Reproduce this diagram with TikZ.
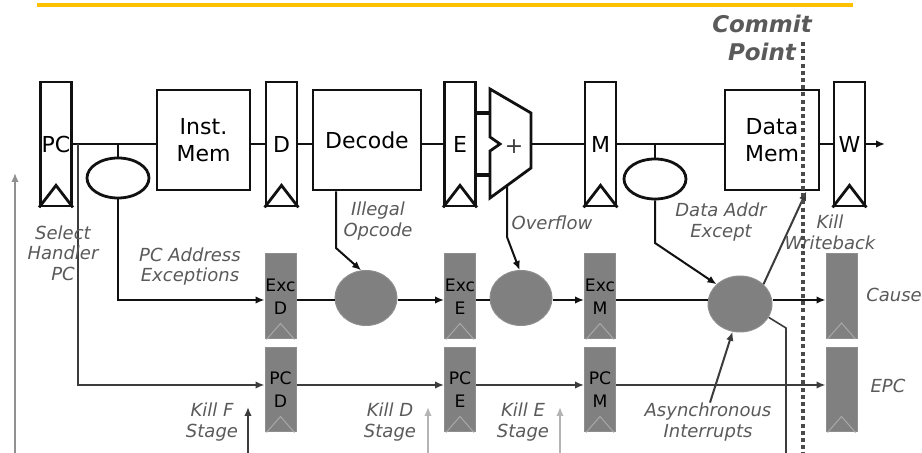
\documentclass[tikz,border=0pt]{standalone}
\usepackage{fontspec}
\setmainfont{DejaVu Sans}
\usepackage{tikz}
\usetikzlibrary{arrows.meta,positioning,shapes,calc}
\definecolor{ink}{HTML}{111111}
\definecolor{notegray}{HTML}{5A5A5A}
\definecolor{regfill}{HTML}{808080}
\definecolor{regedge}{HTML}{8E8E8E}
\definecolor{clockfaint}{HTML}{A8A8A8}
\definecolor{killgray}{HTML}{B4B4B4}
\definecolor{pcwire}{HTML}{3C3C3C}
\definecolor{dotgray}{HTML}{4A4A4A}
\definecolor{slidegold}{HTML}{FFC000}
\tikzset{
  pipereg/.style={
    draw=ink, line width=1.4pt, minimum width=15.5pt, minimum height=62pt,
    inner sep=0pt, font=\fontsize{11}{13}\selectfont
  },
  logicbox/.style={
    draw=ink, line width=1.4pt, minimum height=50pt, inner sep=0pt,
    align=center, font=\fontsize{11}{13.5}\selectfont
  },
  excreg/.style={
    draw=regedge, fill=regfill, line width=0.5pt, minimum width=15.5pt,
    inner sep=0pt, align=center, font=\fontsize{8.6}{11.5}\selectfont
  },
  excbubble/.style={
    ellipse, draw=regedge, fill=regfill, line width=0.5pt,
    minimum width=31pt, minimum height=27.5pt, inner sep=0pt
  },
  checkoval/.style={
    ellipse, draw=ink, line width=1.4pt, minimum width=31pt,
    minimum height=20pt, inner sep=0pt
  },
  sidenote/.style={
    text=notegray, align=center, inner sep=0pt,
    font=\itshape\fontsize{9}{10.3}\selectfont
  },
  commitnote/.style={
    text=notegray, align=center, inner sep=0pt,
    font=\bfseries\itshape\fontsize{11.5}{14}\selectfont
  },
  wire/.style={draw=ink, line width=1pt},
  arrowto/.style={-{Latex[length=4.5pt,width=3.8pt]}},
  commitdots/.style={draw=dotgray, line width=2pt, dash pattern=on 2pt off 1.6pt}
}

\begin{document}
\begin{tikzpicture}[x=0.5pt, y=-0.5pt]
  \useasboundingbox[fill=white] (0,0) rectangle (922,453);
  \draw[slidegold, line width=2pt] (37,5) -- (853,5);

  % main pipeline
  \node[pipereg] (pc) at (56,144) {PC};
  \node[logicbox, minimum width=46.5pt] (imem) at (203.5,140) {Inst.\\Mem};
  \node[pipereg] (rD) at (281.5,144) {D};
  \node[logicbox, minimum width=54pt] (dec) at (367,140) {Decode};
  \node[pipereg] (rE) at (460,144) {E};
  \node[pipereg] (rM) at (600.5,144) {M};
  \node[logicbox, minimum width=47pt] (dmem) at (772,140) {Data\\Mem};
  \node[pipereg] (rW) at (849.5,144) {W};
  \foreach \r in {pc,rD,rE,rM,rW}
    \draw[wire, line width=1.4pt] (\r.south west) -- ($(\r.south)+(0,-22)$) -- (\r.south east);

  % adder
  \coordinate (aluA) at (490,113);
  \coordinate (aluB) at (490,175);
  \coordinate (aluOut) at (531,144);
  \coordinate (aluBot) at (507,186);
  \draw[wire, line width=1.4pt] (490,89) -- (531,113) -- (531,168) -- (490,198)
    -- (490,151) -- (500,144) -- (490,137) -- cycle;
  \node[font=\fontsize{11}{13}\selectfont, text=pcwire] (alu) at (514,147) {+};
  \draw[wire, line width=1.6pt] (rE.east |- aluA) -- (aluA);
  \draw[wire, line width=1.6pt] (rE.east |- aluB) -- (aluB);

  \coordinate (wout) at (885,144);
  \draw[wire] (pc.east) -- (imem.west |- pc.east);
  \draw[wire] (imem.east |- rD.west) -- (rD.west);
  \draw[wire] (rD.east) -- (dec.west |- rD.east);
  \draw[wire] (dec.east |- rE.west) -- (rE.west);
  \draw[wire] (aluOut) -- (rM.west);
  \draw[wire] (rM.east) -- (dmem.west |- rM.east);
  \draw[wire] (dmem.east |- rW.west) -- (rW.west);
  \draw[wire, arrowto] (rW.east) -- (wout);

  % address checks
  \node[checkoval] (e1) at (118,178) {};
  \node[checkoval] (e2) at (655,179) {};
  \draw[wire] (e1.north) -- (e1.north |- pc.east);
  \draw[wire] (e2.north) -- (e2.north |- rM.east);

  % exception pipeline
  \coordinate (excy) at (0,300);
  \coordinate (pcy) at (0,385);
  \coordinate (floor) at (0,453);
  \node[excreg, minimum height=42.5pt] (xD) at (280.5,296.5) {Exc\\D};
  \node[excreg, minimum height=42.5pt] (xE) at (460,296.5) {Exc\\E};
  \node[excreg, minimum height=42.5pt] (xM) at (600,296.5) {Exc\\M};
  \node[excreg, minimum height=42.5pt] (cause) at (841.5,296) {};
  \node[excreg, minimum height=42pt] (pD) at (280.5,390) {PC\\D};
  \node[excreg, minimum height=42pt] (pE) at (460,390) {PC\\E};
  \node[excreg, minimum height=42pt] (pM) at (600,390) {PC\\M};
  \node[excreg, minimum height=42pt] (epc) at (841.5,390) {};
  \foreach \r in {xD,xE,xM,cause,pD,pE,pM,epc}
    \draw[clockfaint, line width=0.5pt] ($(\r.south west)+(2,0)$) -- ($(\r.south)+(0,-16)$) -- ($(\r.south east)+(-2,0)$);

  \node[excbubble] (c1) at (366,298) {};
  \node[excbubble] (c2) at (521,298) {};
  \node[excbubble, minimum width=32pt, minimum height=28pt] (c3) at (740,304) {};

  \draw[wire, arrowto] (e1.south) |- (xD.west |- excy);
  \draw[wire] (xD.east |- excy) -- (c1.west |- excy);
  \draw[wire, arrowto] (c1.east |- excy) -- (xE.west |- excy);
  \draw[wire] (xE.east |- excy) -- (c2.west |- excy);
  \draw[wire, arrowto] (c2.east |- excy) -- (xM.west |- excy);
  \draw[wire] (xM.east |- excy) -- (c3.west |- excy);
  \draw[wire, arrowto] (c3.east |- excy) -- (cause.west |- excy);

  \coordinate (hsel) at (78,144);
  \draw[wire, draw=pcwire, line width=1.4pt, arrowto] (hsel) |- (pD.west |- pcy);
  \draw[wire, draw=pcwire, line width=1.4pt, arrowto] (pD.east |- pcy) -- (pE.west |- pcy);
  \draw[wire, draw=pcwire, line width=1.4pt, arrowto] (pE.east |- pcy) -- (pM.west |- pcy);
  \draw[wire, draw=pcwire, line width=1.4pt, arrowto] (pM.east |- pcy) -- (epc.west |- pcy);

  % exception sources
  \coordinate (ilbend) at (336,248);
  \coordinate (ovbend) at (507,237);
  \coordinate (dabend) at (655,243);
  \coordinate (kwb) at ($(dmem.south east)+(-14,0)$);
  \coordinate (kbend) at (786,328);
  \draw[wire, arrowto] (ilbend |- dec.south) -- (ilbend) -- (c1.100);
  \draw[wire, arrowto] (aluBot) -- (ovbend) -- (c2.93);
  \draw[wire, arrowto] (e2.south) -- (dabend) -- (c3.140);
  \draw[wire, draw=pcwire, arrowto] (c3.40) -- (kwb);
  \draw[wire, draw=pcwire, line width=0.8pt] (c3.-25) -- (kbend) -- (kbend |- floor);

  % labels
  \node[sidenote] (selhdl) at (63,253) {Select\\Handler\\PC};
  \node[sidenote] (pcaddr) at (190,266.5) {PC Address\\Exceptions};
  \node[sidenote] (illop) at (378,221) {Illegal\\Opcode};
  \node[sidenote] (ovfl) at (552,223) {Overflow};
  \node[sidenote] (daddr) at (721,222) {Data Addr\\Except};
  \node[sidenote] (killwb) at (830,232) {Kill\\Writeback};
  \node[sidenote] (causelbl) at (894,295) {Cause};
  \node[sidenote] (epclbl) at (888,386) {EPC};
  \node[sidenote] (killf) at (212,422) {Kill F\\Stage};
  \node[sidenote] (killd) at (390,422) {Kill D\\Stage};
  \node[sidenote] (kille) at (523,422) {Kill E\\Stage};
  \node[sidenote] (async) at (708,422) {Asynchronous\\Interrupts};
  \node[commitnote] (commit) at (762,38) {Commit\\Point};

  \draw[wire, draw=pcwire, arrowto] ([xshift=1pt]async.north) -- (c3.-105);

  % kill and handler arrows
  \coordinate (kf) at (248,407);
  \coordinate (kd) at (428,407);
  \coordinate (ke) at (560,407);
  \coordinate (ret) at (15,173);
  \draw[pcwire, line width=1.2pt, arrowto] (kf |- floor) -- (kf);
  \draw[killgray, line width=1.2pt, arrowto] (kd |- floor) -- (kd);
  \draw[killgray, line width=1.2pt, arrowto] (ke |- floor) -- (ke);
  \draw[killgray!80!black, line width=1.2pt, arrowto] (ret |- floor) -- (ret);

  % commit point
  \coordinate (cptop) at (803,42);
  \draw[commitdots] (cptop) -- (cptop |- floor);
\end{tikzpicture}
\end{document}
